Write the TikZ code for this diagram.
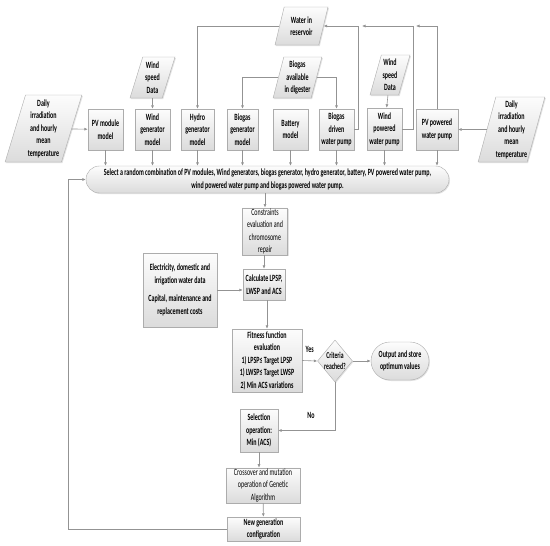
\documentclass[tikz,border=0pt]{standalone}
\usepackage{fontspec}
\setmainfont{Carlito}[FakeStretch=0.63]
\usetikzlibrary{arrows.meta,shapes.geometric,shapes.misc,shadows}

\tikzset{
	boxfill/.style={draw=gray!65, top color=gray!2, bottom color=gray!28, drop shadow={shadow xshift=1pt, shadow yshift=-1pt, fill=gray!45, opacity=0.5}},
	blk/.style={boxfill, rectangle, align=center, inner sep=1pt, font=\fontsize{9.5}{12.5}\selectfont\bfseries},
	blkthin/.style={blk, font=\fontsize{9.5}{12.5}\selectfont},
	inp/.style={boxfill, trapezium, trapezium left angle=73, trapezium right angle=107, trapezium stretches=true, align=center, inner sep=0pt, font=\fontsize{9.5}{12.5}\selectfont\bfseries},
	term/.style={boxfill, rounded rectangle, align=center, inner sep=1pt, font=\fontsize{9.5}{12.5}\selectfont\bfseries},
	dec/.style={boxfill, diamond, align=center, inner sep=-4pt, font=\fontsize{9}{11}\selectfont\bfseries},
	arr/.style={draw=gray!85, line width=0.6pt, -{Latex[length=3.5pt,width=3pt]}},
	lbl/.style={font=\fontsize{9.5}{11}\selectfont\bfseries}
}

\begin{document}
\begin{tikzpicture}[x=1pt,y=-1pt]
			\useasboundingbox (0,0) rectangle (550,546);

			% inputs
			\node[inp, minimum width=77, minimum height=67] (lin) at (43.5,128.5) {Daily\\irradiation\\and hourly\\mean\\temperature};
			\node[inp, minimum width=67, minimum height=65] (rin) at (511.5,129.5) {Daily\\irradiation\\and hourly\\mean\\temperature};
			\node[inp, minimum width=45, minimum height=41] (wsl) at (152.5,77.5) {Wind\\speed\\Data};
			\node[inp, minimum width=40, minimum height=40] (wsr) at (390,75) {Wind\\speed\\Data};
			\node[inp, minimum width=49, minimum height=41] (bga) at (297.5,77.5) {Biogas\\available\\in digester};
			\node[inp, minimum width=53, minimum height=38] (res) at (301.5,26) {Water in\\reservoir};

			% models
			\node[blk, minimum width=35, minimum height=41] (pvm) at (105.5,129.5) {PV module\\model};
			\node[blk, minimum width=35, minimum height=41] (wgm) at (152.5,129.5) {Wind\\generator\\model};
			\node[blk, minimum width=33, minimum height=41] (hgm) at (197.5,129.5) {Hydro\\generator\\model};
			\node[blk, minimum width=31, minimum height=41] (bgm) at (242.5,129.5) {Biogas\\generator\\model};
			\node[blk, minimum width=35, minimum height=41] (bat) at (290.5,129.5) {Battery\\model};
			\node[blk, minimum width=35, minimum height=41] (bdp) at (336.5,129.5) {Biogas\\driven\\water pump};
			\node[blk, minimum width=35, minimum height=42] (wdp) at (384.5,129) {Wind\\powered\\water pump};
			\node[blk, minimum width=42, minimum height=41] (pdp) at (437,129.5) {PV powered\\water pump};

			% algorithm
			\node[term, minimum width=365, minimum height=27] (sel) at (267.5,179.5) {Select a random combination of PV modules, Wind generators, biogas generator, hydro generator, battery, PV powered water pump,\\wind powered water pump and biogas powered water pump.};
			\node[blkthin, minimum width=45, minimum height=43] (con) at (265,231.5) {Constraints\\evaluation and\\chromosome\\repair};
			\node[blk, minimum width=42, minimum height=31] (calc) at (264,284.5) {Calculate LPSP,\\LWSP and ACS};
			\node[blk, minimum width=74, minimum height=74] (ele) at (180,290) {Electricity, domestic and\\irrigation water data\\[6pt]Capital, maintenance and\\replacement costs};
			\node[blk, minimum width=70, minimum height=63] (fit) at (267,360.5) {Fitness function\\evaluation\\1) LPSP≤ Target LPSP\\1) LWSP≤ Target LWSP\\2) Min ACS variations};
			\node[dec, minimum width=35, minimum height=42] (crit) at (335,361) {Criteria\\reached?};
			\node[term, minimum width=60, minimum height=38] (out) at (400,361) {Output and store\\optimum values};
			\node[blk, minimum width=38, minimum height=43] (sop) at (259,430.5) {Selection\\operation:\\Min (ACS)};
			\node[blkthin, minimum width=74, minimum height=33] (cxm) at (263,485.5) {Crossover and mutation\\operation of Genetic\\Algorithm};
			\node[blk, minimum width=73, minimum height=24] (ngc) at (263.5,529) {New generation\\configuration};

			% junctions on the top line
			\coordinate (j1) at (362,26);
			\coordinate (j2) at (416,26);

			% inputs to models
			\draw[arr] (lin) -- (pvm);
			\draw[arr] (wsl) -- (wgm);
			\draw[arr] (wsr) -- (wdp);
			\draw[arr] (rin) -- (pdp);
			\draw[arr] (res.west) -| (hgm.north);
			\draw[arr] (bga.west) -| (bgm.north);
			\draw[arr] (bga.east) -| (bdp.north);
			% pumps back to reservoir
			\draw[arr] (bdp.east) -- ++(4,0) |- (res.east);
			\draw[arr] (wdp.east) -- ++(11,0) |- (j1);
			\draw[arr] (pdp.north) |- (j2);

			% models to selection
			\foreach \m in {pvm,wgm,hgm,bgm,bat,bdp,wdp,pdp}
				\draw[arr] (\m.south) -- (\m.south |- sel.north);

			% main loop
			\draw[arr] (sel.south -| con.north) -- (con.north);
			\draw[arr] (con.south -| calc.north) -- (calc.north);
			\draw[arr] (ele.east) -- (ele.east -| calc.west);
			\draw[arr] (calc.south -| fit.north) -- (fit.north);
			\draw[arr] (fit.east) -- node[lbl, above=5pt] (yes) {Yes} (crit.west);
			\draw[arr] (crit.east) -- (out.west);
			\draw[arr] (crit.south) |- (sop.east);
			\node[lbl] (no) at (311,415) {No};
			\draw[arr] (sop.south) -- (sop.south |- cxm.north);
			\draw[arr] (cxm) -- (ngc);
			\draw[arr] (ngc.west) -- ++(-158.5,0) |- (sel.west);
		\end{tikzpicture}
\end{document}
